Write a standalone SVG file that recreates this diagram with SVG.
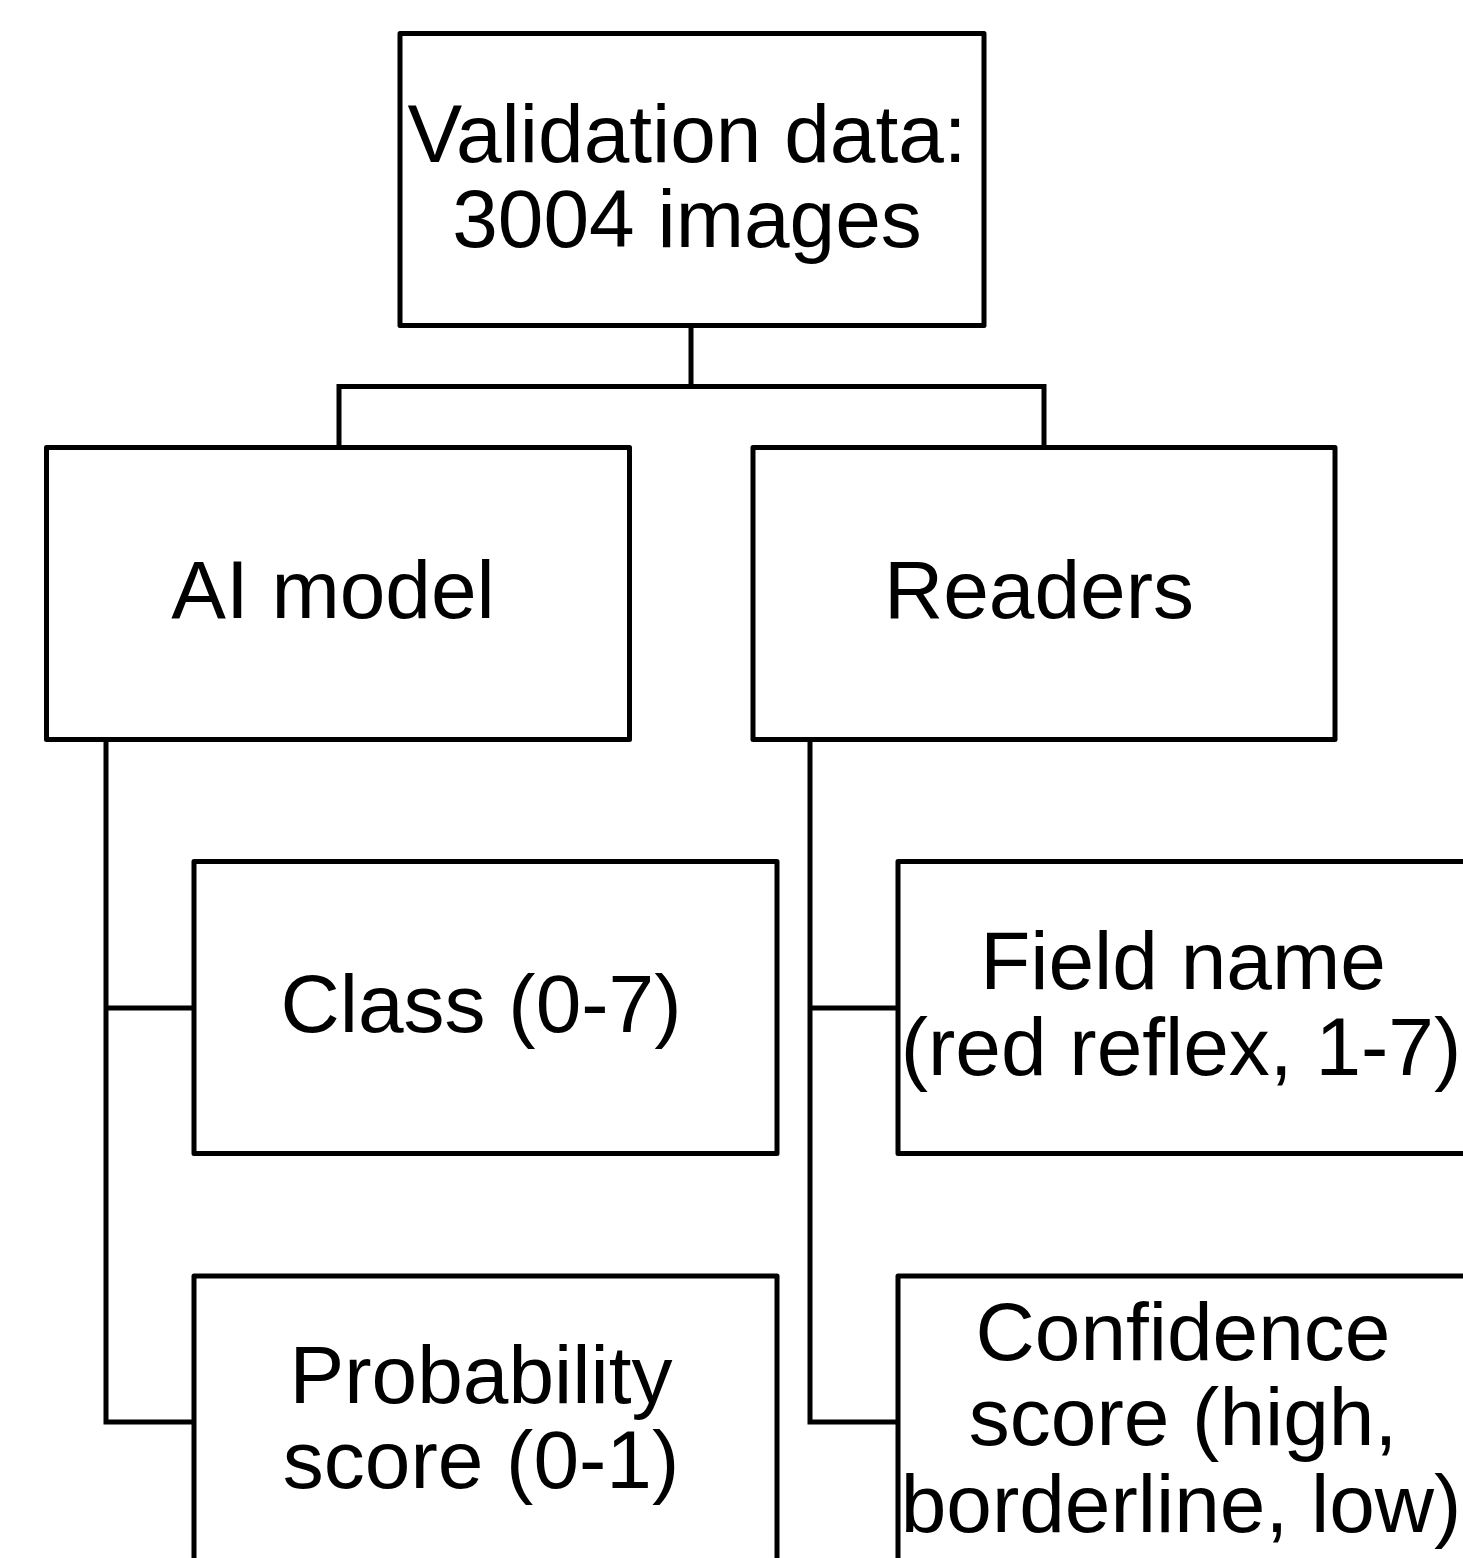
<svg xmlns="http://www.w3.org/2000/svg" width="1463" height="1558" viewBox="0 0 1463 1558">
<style>
.box{fill:#fff;stroke:#000;stroke-width:5;stroke-linejoin:round}
.conn{fill:none;stroke:#000;stroke-width:5;stroke-linejoin:miter}
.lbl{font-family:"Liberation Sans",Arial,sans-serif;font-size:82px;fill:#000;text-anchor:middle}
</style>
<rect width="1463" height="1558" fill="#fff"/>
<g id="connectors">
<path class="conn" d="M691,325 V386.5"/>
<path class="conn" d="M339,447.5 V386.5 H1044 V447.5"/>
<path class="conn" d="M106,739.5 V1422 H194"/>
<path class="conn" d="M106,1008 H194"/>
<path class="conn" d="M810,739.5 V1422 H898"/>
<path class="conn" d="M810,1008 H898"/>
</g>
<g id="validation">
<rect class="box" x="400" y="33.5" width="584" height="292"/>
<text class="lbl" x="687" y="162">Validation data:</text>
<text class="lbl" x="687" y="247">3004 images</text>
</g>
<g id="ai-model">
<rect class="box" x="46.5" y="447.5" width="583" height="292"/>
<text class="lbl" x="333" y="618">AI model</text>
</g>
<g id="readers">
<rect class="box" x="753" y="447.5" width="582" height="292"/>
<text class="lbl" x="1039" y="618">Readers</text>
</g>
<g id="class">
<rect class="box" x="194" y="861.5" width="583" height="292"/>
<text class="lbl" x="481" y="1032">Class (0-7)</text>
</g>
<g id="field-name">
<rect class="box" x="898" y="861.5" width="584" height="292"/>
<text class="lbl" x="1183" y="989">Field name</text>
<text class="lbl" x="1181" y="1075">(red reflex, 1-7)</text>
</g>
<g id="probability">
<rect class="box" x="194" y="1276" width="583" height="292"/>
<text class="lbl" x="481" y="1403">Probability</text>
<text class="lbl" x="481" y="1488">score (0-1)</text>
</g>
<g id="confidence">
<rect class="box" x="898" y="1276" width="584" height="292"/>
<text class="lbl" x="1183" y="1360">Confidence</text>
<text class="lbl" x="1183" y="1445">score (high,</text>
<text class="lbl" x="1181" y="1532">borderline, low)</text>
</g>
</svg>
